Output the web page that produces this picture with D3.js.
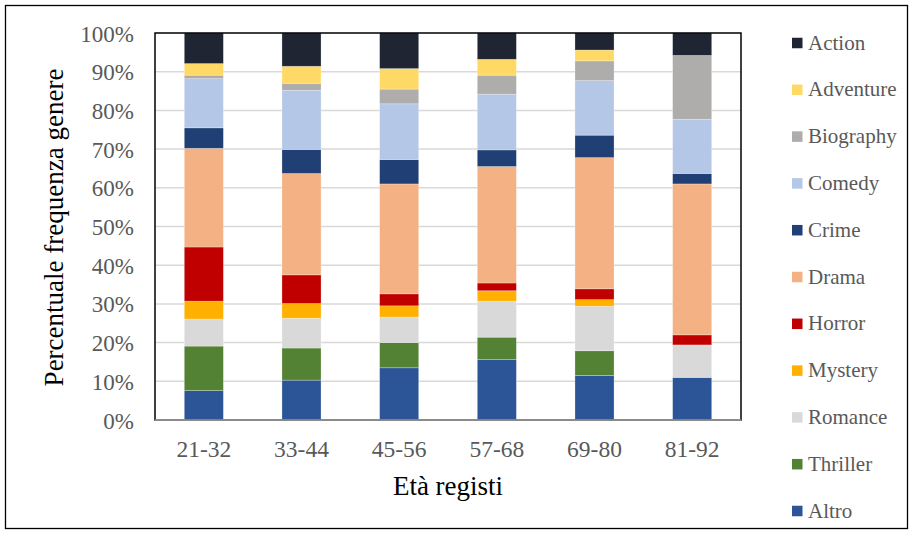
<!DOCTYPE html>
<html>
<head>
<meta charset="utf-8">
<script src="https://cdn.jsdelivr.net/npm/d3@7"></script>
<style>
  html, body { margin: 0; padding: 0; background: #fff; }
  svg { display: block; }
  text { font-family: "Liberation Serif", "Times New Roman", serif; }
</style>
</head>
<body>
<svg id="chart" width="913" height="533"></svg>
<script>
// Age groups of the directors
const categories = ["21-32", "33-44", "45-56", "57-68", "69-80", "81-92"];

// Genres, bottom of the stack first
const genres = ["Altro", "Thriller", "Romance", "Mystery", "Horror", "Drama",
                "Crime", "Comedy", "Biography", "Adventure", "Action"];

// Percentage share of each genre per age group
const altro     = [7.6, 10.3, 13.5, 15.6, 11.5, 11.0];
const thriller  = [11.5, 8.3, 6.5, 5.8, 6.4, 0];
const romance   = [7.0, 7.7, 6.6, 9.3, 11.5, 8.4];
const mystery   = [4.6, 3.8, 2.9, 2.7, 1.7, 0];
const horror    = [14.0, 7.4, 3.1, 2.0, 2.8, 2.6];
const drama     = [25.5, 26.2, 28.4, 30.1, 33.9, 39.0];
const crime     = [5.3, 6.2, 6.3, 4.3, 5.8, 2.7];
const comedy    = [12.7, 15.3, 14.4, 14.4, 14.1, 14.0];
const biography = [0.9, 1.8, 3.8, 4.9, 5.1, 16.5];
const adventure = [3.0, 4.4, 5.3, 4.1, 2.8, 0];
const action    = [7.9, 8.6, 9.2, 6.8, 4.4, 5.8];

const yTicks = [0, 10, 20, 30, 40, 50, 60, 70, 80, 90, 100];

const colors = {
  Altro: "#2C5597", Thriller: "#548235", Romance: "#D9D9D9", Mystery: "#FFB000",
  Horror: "#C00000", Drama: "#F4B183", Crime: "#203F74", Comedy: "#B4C7E7",
  Biography: "#AEADAB", Adventure: "#FFD966", Action: "#1F2533"
};

const seriesValues = {
  Altro: altro, Thriller: thriller, Romance: romance, Mystery: mystery,
  Horror: horror, Drama: drama, Crime: crime, Comedy: comedy,
  Biography: biography, Adventure: adventure, Action: action
};

// Rows for d3.stack
const rows = categories.map((c, i) => {
  const r = { cat: c };
  genres.forEach(g => { r[g] = seriesValues[g][i]; });
  return r;
});

const svg = d3.select("#chart");
const plot = { left: 155, right: 741, top: 33, bottom: 420 };

// Outer chart frame
svg.append("rect")
  .attr("x", 5.5).attr("y", 5.5)
  .attr("width", 902).attr("height", 523)
  .attr("fill", "#fff").attr("stroke", "#000").attr("stroke-width", 1.3);

const x = d3.scaleBand()
  .domain(categories)
  .range([plot.left, plot.right])
  .paddingInner(0.6).paddingOuter(0.3);

const y = d3.scaleLinear().domain([0, 100]).range([plot.bottom, plot.top]);

// Gridlines
svg.append("g")
  .selectAll("line")
  .data(yTicks.filter(t => t > 0 && t < 100))
  .join("line")
  .attr("x1", plot.left).attr("x2", plot.right)
  .attr("y1", d => y(d)).attr("y2", d => y(d))
  .attr("stroke", "#D9D9D9").attr("stroke-width", 1.5);

// Stacked bars
const stacked = d3.stack().keys(genres)(rows);
svg.append("g")
  .selectAll("g")
  .data(stacked)
  .join("g")
  .attr("fill", d => colors[d.key])
  .selectAll("rect")
  .data(d => d.filter(s => s[1] - s[0] > 0))
  .join("rect")
  .attr("x", d => x(d.data.cat))
  .attr("width", x.bandwidth())
  .attr("y", d => y(d[1]))
  .attr("height", d => y(d[0]) - y(d[1]))
  .attr("stroke", "rgba(255,255,255,0.35)")
  .attr("stroke-width", 0.75);

// Plot area border
svg.append("rect")
  .attr("x", plot.left).attr("y", plot.top)
  .attr("width", plot.right - plot.left).attr("height", plot.bottom - plot.top)
  .attr("fill", "none").attr("stroke", "#000").attr("stroke-width", 1.5);

// X axis line
svg.append("line")
  .attr("x1", plot.left).attr("x2", plot.right)
  .attr("y1", plot.bottom).attr("y2", plot.bottom)
  .attr("stroke", "#A6A6A6").attr("stroke-width", 1.5);

// Y axis labels
const yAxis = d3.axisLeft(y).tickValues(yTicks).tickFormat(d => d + "%").tickSize(0).tickPadding(21);
const gy = svg.append("g").attr("transform", `translate(${plot.left},0)`).call(yAxis);
gy.select(".domain").remove();
gy.selectAll("text")
  .attr("fill", "#595959")
  .attr("dy", "0.35em")
  .style("font-size", "23px")
  .style("font-family", "'Liberation Serif', serif");

// X axis labels
const xAxis = d3.axisBottom(x).tickSize(0).tickPadding(20);
const gx = svg.append("g").attr("transform", `translate(0,${plot.bottom})`).call(xAxis);
gx.select(".domain").remove();
gx.selectAll("text")
  .attr("fill", "#595959")
  .style("font-size", "23.5px")
  .style("font-family", "'Liberation Serif', serif");

// Axis titles
svg.append("text")
  .attr("x", (plot.left + plot.right) / 2).attr("y", 494.5)
  .attr("text-anchor", "middle")
  .attr("fill", "#000")
  .style("font-size", "27px")
  .text("Età registi");

svg.append("text")
  .attr("transform", `translate(63,${(plot.top + plot.bottom) / 2 + 1}) rotate(-90)`)
  .attr("text-anchor", "middle")
  .attr("fill", "#000")
  .style("font-size", "27px")
  .text("Percentuale frequenza genere");

// Legend, top genre first
const legendOrder = genres.slice().reverse();
const lg = svg.append("g")
  .selectAll("g")
  .data(legendOrder)
  .join("g")
  .attr("transform", (d, i) => `translate(792,${43 + i * 46.8})`);

lg.append("rect")
  .attr("x", 0).attr("y", -5.25).attr("width", 10.5).attr("height", 10.5)
  .attr("fill", d => colors[d]);

lg.append("text")
  .attr("x", 16).attr("y", 6.5)
  .attr("fill", "#595959")
  .style("font-size", "21px")
  .text(d => d);
</script>
</body>
</html>
